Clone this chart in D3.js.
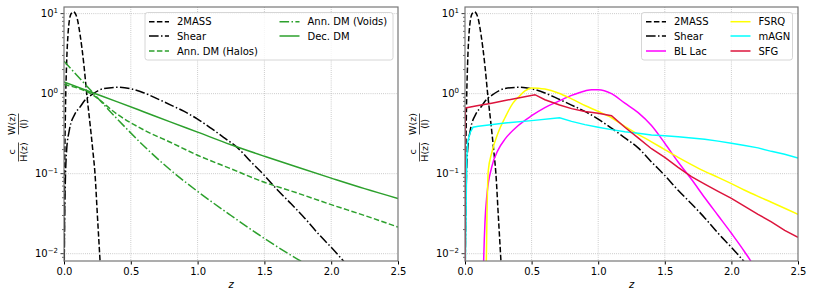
<!DOCTYPE html>
<html>
<head>
<meta charset="utf-8" />
<style>
  body { margin: 0; background: #fff; }
  svg { font-family: "DejaVu Sans", sans-serif; }
</style>
<script src="https://d3js.org/d3.v7.min.js"></script>
</head>
<body>
<svg id="chart" width="834" height="293"></svg>
<script>

// ---- data ----
const zTicks = [0.0, 0.5, 1.0, 1.5, 2.0, 2.5];
const yDecades = [-2, -1, 0, 1];

// shared curves
const twoMassZ = [0.0, 0.005, 0.01, 0.02, 0.03, 0.04, 0.05, 0.06, 0.07, 0.08, 0.09, 0.1, 0.12, 0.15, 0.17, 0.2, 0.215, 0.232, 0.25, 0.27, 0.29];
const twoMassW = [0.001, 0.1, 0.5, 2.5, 5.5, 8.2, 9.7, 10.3, 10.5, 10.3, 9.6, 8.5, 5.5, 2.2, 1.0, 0.35, 0.2, 0.1, 0.03, 0.008, 0.002];

const shearZ = [0.0, 0.005, 0.01, 0.02, 0.04, 0.08, 0.12, 0.16, 0.2, 0.26, 0.3, 0.4, 0.5, 0.6, 0.7, 0.8, 0.9, 1.0, 1.1, 1.2, 1.3, 1.4, 1.5, 1.6, 1.7, 1.8, 1.9, 2.0, 2.1, 2.2];
const shearW = [0.003, 0.03, 0.08, 0.2, 0.35, 0.55, 0.68, 0.84, 0.95, 1.1, 1.16, 1.2, 1.15, 1.02, 0.86, 0.72, 0.6, 0.48, 0.37, 0.28, 0.21, 0.14, 0.095, 0.062, 0.042, 0.028, 0.018, 0.012, 0.0078, 0.005];

// left panel: dark matter
const dmZ = [0.0, 0.2, 0.4, 0.6, 0.8, 1.0, 1.25, 1.5, 1.75, 2.0, 2.25, 2.5];
const annHalosW = [1.3, 1.0, 0.55, 0.35, 0.245, 0.17, 0.115, 0.078, 0.057, 0.041, 0.03, 0.0215];
const annVoidsW = [2.54, 1.1, 0.48, 0.22, 0.11, 0.06, 0.03, 0.0155, 0.0085, 0.005, 0.003, 0.002];
const decayW = [1.4, 1.05, 0.79, 0.59, 0.44, 0.33, 0.23, 0.165, 0.12, 0.088, 0.065, 0.049];

// right panel: astrophysical sources
const blLacZ = [0.13, 0.14, 0.15, 0.165, 0.2, 0.25, 0.3, 0.4, 0.5, 0.6, 0.7, 0.8, 0.9, 0.95, 1.0, 1.1, 1.2, 1.3, 1.4, 1.5, 1.6, 1.7, 1.8, 1.9, 2.0, 2.1, 2.15, 2.2];
const blLacW = [0.001, 0.008, 0.025, 0.055, 0.12, 0.2, 0.27, 0.4, 0.53, 0.67, 0.8, 0.95, 1.08, 1.12, 1.12, 1.0, 0.76, 0.58, 0.4, 0.24, 0.14, 0.085, 0.05, 0.03, 0.018, 0.0105, 0.0078, 0.005];

const fsrqZ = [0.155, 0.16, 0.165, 0.175, 0.2, 0.25, 0.3, 0.36, 0.4, 0.45, 0.5, 0.55, 0.6, 0.7, 0.8, 0.9, 1.0, 1.1, 1.2, 1.3, 1.4, 1.5, 1.6, 1.7, 1.8, 1.9, 2.0, 2.1, 2.2, 2.3, 2.4, 2.5];
const fsrqW = [0.001, 0.008, 0.03, 0.11, 0.18, 0.33, 0.5, 0.76, 0.9, 1.08, 1.18, 1.17, 1.14, 1.02, 0.86, 0.71, 0.6, 0.5, 0.39, 0.31, 0.25, 0.2, 0.16, 0.13, 0.107, 0.09, 0.075, 0.062, 0.052, 0.044, 0.037, 0.031];

const magnZ = [0.0, 0.003, 0.013, 0.02, 0.04, 0.06, 0.1, 0.3, 0.5, 0.71, 0.8, 0.9, 1.0, 1.1, 1.2, 1.3, 1.4, 1.5, 1.6, 1.7, 1.8, 1.9, 2.0, 2.1, 2.2, 2.3, 2.4, 2.5];
const magnW = [0.001, 0.008, 0.15, 0.25, 0.33, 0.38, 0.39, 0.43, 0.46, 0.5, 0.45, 0.41, 0.38, 0.355, 0.335, 0.32, 0.305, 0.298, 0.29, 0.28, 0.27, 0.255, 0.24, 0.225, 0.21, 0.19, 0.175, 0.157];

const sfgZ = [0.0, 0.002, 0.1, 0.2, 0.3, 0.4, 0.525, 0.6, 0.71, 0.8, 0.9, 1.0, 1.1, 1.2, 1.3, 1.4, 1.5, 1.6, 1.7, 1.8, 1.9, 2.0, 2.1, 2.2, 2.3, 2.4, 2.5];
const sfgW = [0.001, 0.66, 0.71, 0.76, 0.82, 0.88, 0.97, 0.84, 0.72, 0.65, 0.6, 0.57, 0.53, 0.38, 0.28, 0.205, 0.16, 0.12, 0.092, 0.074, 0.06, 0.049, 0.039, 0.031, 0.025, 0.0195, 0.016];

const dashed = "5.5,2.4";
const dashDot = "9.6,2.4,1.5,2.4";

const leftSeries = [
  { name: "2MASS", z: twoMassZ, w: twoMassW, color: "#000", dash: dashed, curve: d3.curveMonotoneX },
  { name: "Shear", z: shearZ, w: shearW, color: "#000", dash: dashDot, curve: d3.curveMonotoneX },
  { name: "Ann. DM (Halos)", z: dmZ, w: annHalosW, color: "#2ca02c", dash: dashed, curve: d3.curveMonotoneX },
  { name: "Ann. DM (Voids)", z: dmZ, w: annVoidsW, color: "#2ca02c", dash: dashDot, curve: d3.curveMonotoneX },
  { name: "Dec. DM", z: dmZ, w: decayW, color: "#2ca02c", dash: null, curve: d3.curveMonotoneX }
];
const rightSeries = [
  { name: "2MASS", z: twoMassZ, w: twoMassW, color: "#000", dash: dashed, curve: d3.curveMonotoneX },
  { name: "Shear", z: shearZ, w: shearW, color: "#000", dash: dashDot, curve: d3.curveMonotoneX },
  { name: "BL Lac", z: blLacZ, w: blLacW, color: "#ff00ff", dash: null, curve: d3.curveMonotoneX },
  { name: "FSRQ", z: fsrqZ, w: fsrqW, color: "#ffff00", dash: null, curve: d3.curveMonotoneX },
  { name: "mAGN", z: magnZ, w: magnW, color: "#00ffff", dash: null, curve: d3.curveLinear },
  { name: "SFG", z: sfgZ, w: sfgW, color: "#dc143c", dash: null, curve: d3.curveLinear }
];

const svg = d3.select("#chart");
const plotTop = 7, plotBottom = 261;

function drawPanel(id, x0, x1, series, legendBox) {
  const x = d3.scaleLinear().domain([0, 2.5]).range([x0, x1]);
  const y = d3.scaleLog().domain([0.0081, 12.1]).range([plotBottom, plotTop]);
  const g = svg.append("g").attr("id", id);

  g.append("clipPath").attr("id", id + "-clip")
    .append("rect").attr("x", x0).attr("y", plotTop).attr("width", x1 - x0).attr("height", plotBottom - plotTop);

  // grid
  const grid = g.append("g").attr("stroke", "#b0b0b0").attr("stroke-width", 0.8)
    .attr("stroke-dasharray", "0.8,1.3");
  zTicks.slice(1, -1).forEach(t => {
    grid.append("line").attr("x1", x(t)).attr("x2", x(t)).attr("y1", plotTop).attr("y2", plotBottom);
  });
  yDecades.forEach(k => {
    grid.append("line").attr("x1", x0).attr("x2", x1).attr("y1", y(Math.pow(10, k))).attr("y2", y(Math.pow(10, k)));
  });

  // curves
  const lines = g.append("g").attr("clip-path", "url(#" + id + "-clip)");
  series.forEach(s => {
    const pts = s.z.map((z, i) => [z, s.w[i]]);
    const line = d3.line().x(d => x(d[0])).y(d => y(d[1])).curve(s.curve);
    lines.append("path").attr("d", line(pts))
      .attr("fill", "none").attr("stroke", s.color).attr("stroke-width", 1.5)
      .attr("stroke-dasharray", s.dash);
  });

  // x axis
  const xAxis = d3.axisBottom(x).tickValues(zTicks).tickFormat(d3.format(".1f")).tickSize(3.5).tickPadding(3);
  const xg = g.append("g").attr("transform", "translate(0," + plotBottom + ")").call(xAxis);
  xg.select(".domain").remove();
  xg.selectAll("text").attr("font-size", 10).attr("font-family", "DejaVu Sans").attr("fill", "#000");

  // y axis: majors and minors
  const yg = g.append("g");
  yDecades.forEach(k => {
    const yy = y(Math.pow(10, k));
    yg.append("line").attr("x1", x0 - 3.5).attr("x2", x0).attr("y1", yy).attr("y2", yy).attr("stroke", "#000").attr("stroke-width", 0.8);
    const t = yg.append("text").attr("x", x0 - 6).attr("y", yy + 3.5).attr("text-anchor", "end").attr("font-size", 10);
    t.append("tspan").text("10");
    t.append("tspan").attr("dy", -4).attr("font-size", 7).text(k < 0 ? "\u2212" + (-k) : String(k));
  });
  for (let k = -3; k <= 1; k++) {
    for (let m = 2; m <= 9; m++) {
      const v = m * Math.pow(10, k);
      if (v < 0.0081 || v > 12.1) continue;
      const yy = y(v);
      yg.append("line").attr("x1", x0 - 2).attr("x2", x0).attr("y1", yy).attr("y2", yy).attr("stroke", "#000").attr("stroke-width", 0.6);
    }
  }

  // frame
  g.append("rect").attr("x", x0).attr("y", plotTop).attr("width", x1 - x0).attr("height", plotBottom - plotTop)
    .attr("fill", "none").attr("stroke", "#777").attr("stroke-width", 1.2);

  // x label
  g.append("text").attr("x", (x0 + x1) / 2).attr("y", 288).attr("text-anchor", "middle")
    .attr("font-size", 10).attr("font-style", "italic").text("z");

  // y label: c/H(z) W(z)/<I>
  const yl = g.append("g").attr("transform", "translate(" + (x0 - 46) + ",137) rotate(-90)")
    .attr("font-size", 9.5);
  const fracs = [{ cx: -15, num: "c", den: "H(z)", w: 19 }, { cx: 13, num: "W(z)", den: "\u27E8I\u27E9", w: 21 }];
  fracs.forEach(f => {
    yl.append("text").attr("x", f.cx).attr("y", -3).attr("text-anchor", "middle").text(f.num);
    yl.append("text").attr("x", f.cx).attr("y", 9).attr("text-anchor", "middle").text(f.den);
    yl.append("line").attr("x1", f.cx - f.w / 2).attr("x2", f.cx + f.w / 2).attr("y1", 0.5).attr("y2", 0.5)
      .attr("stroke", "#000").attr("stroke-width", 0.7);
  });

  // legend
  const lg = g.append("g");
  lg.append("rect").attr("x", legendBox.x).attr("y", 12.5).attr("width", legendBox.w).attr("height", 47.5)
    .attr("rx", 2.5).attr("fill", "#fff").attr("fill-opacity", 0.8).attr("stroke", "#ccc").attr("stroke-width", 0.8);
  const rows = [21.7, 36, 51];
  series.forEach((s, i) => {
    const col = i < 3 ? 0 : 1;
    const row = i < 3 ? i : i - 3;
    const lx = legendBox.cols[col];
    const ly = rows[row];
    lg.append("line").attr("x1", lx).attr("x2", lx + 20).attr("y1", ly).attr("y2", ly)
      .attr("stroke", s.color).attr("stroke-width", 1.5).attr("stroke-dasharray", s.dash);
    lg.append("text").attr("x", lx + 28).attr("y", ly + 3.6).attr("font-size", 10).text(s.name);
  });
}

drawPanel("left", 64, 398, leftSeries, { x: 145, w: 248, cols: [149, 279.5] });
drawPanel("right", 465, 798, rightSeries, { x: 641.5, w: 151, cols: [646, 730.5] });

</script>
</body>
</html>
